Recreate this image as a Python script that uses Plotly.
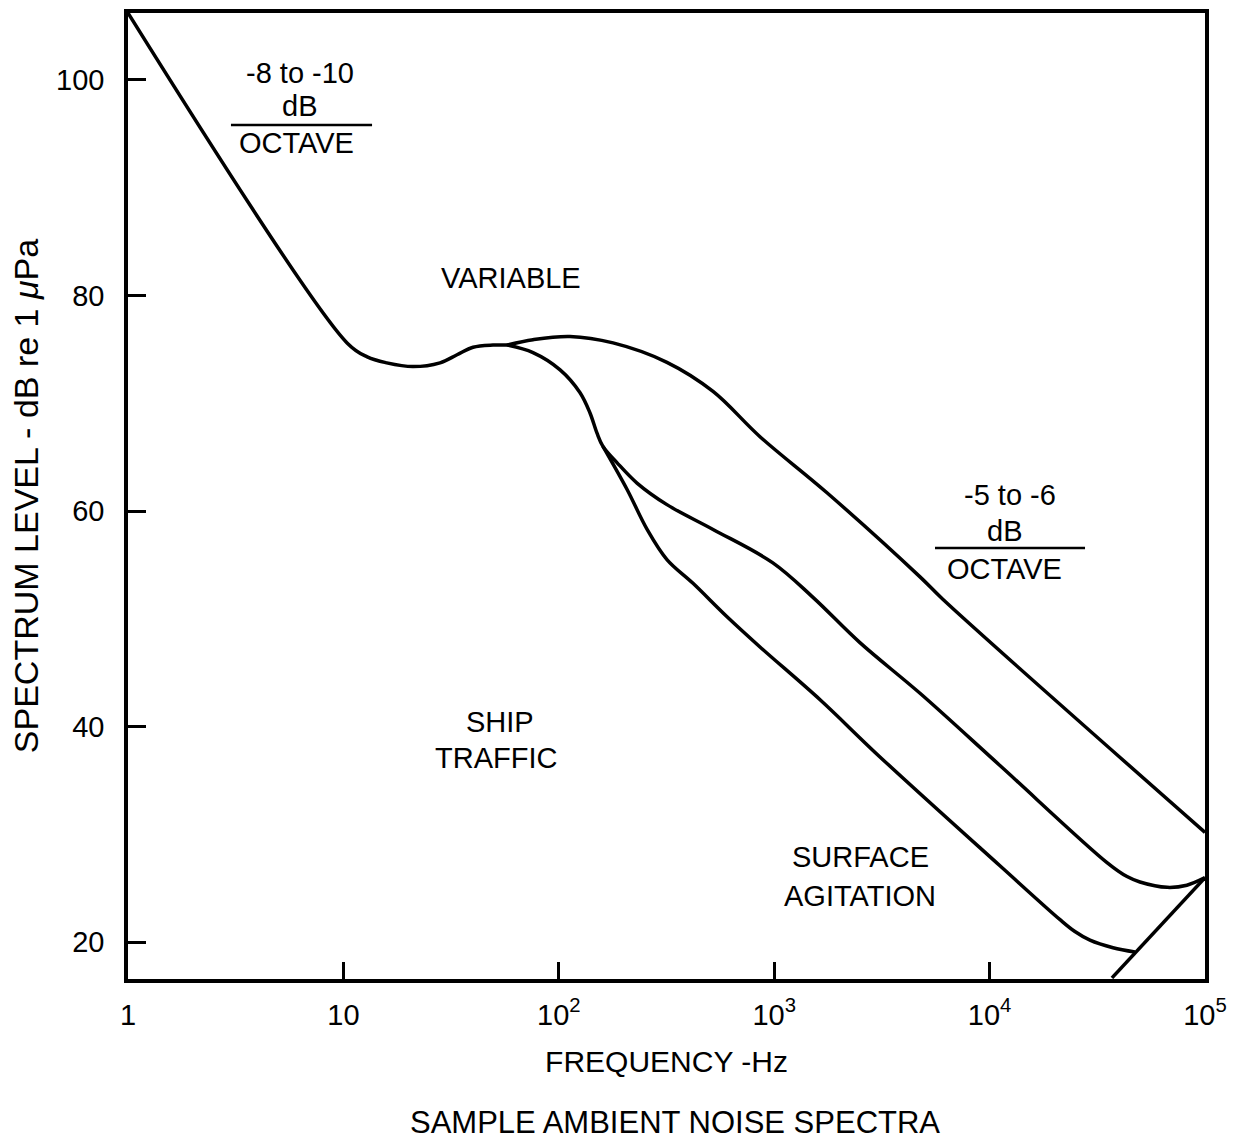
import plotly.graph_objects as go

# ---------------- data (frequency in Hz, level in dB re 1 uPa) ----------------
low_freq_hz = [1, 10.4, 12.9, 15.9, 21.0, 28.1, 33.7, 40.0, 49.5, 57.5]
low_level = [106.2, 75.6, 74.3, 73.75, 73.4, 73.75, 74.5, 75.2, 75.4, 75.4]

upper_freq_hz = [57.5, 75.9, 112.7, 178.6, 317.7, 520.0, 859.0, 1758,
                 4753, 6081, 100000]
upper_level = [75.4, 75.9, 76.2, 75.6, 73.8, 71.1, 66.9, 61.7,
               53.9, 51.8, 30.2]

middle_freq_hz = [57.5, 75.9, 101.4, 125.3, 139.6, 150.3, 160.3, 186.2, 230.7,
                  317.7, 520.0, 986, 1514, 2500, 4753, 11170, 35080, 43450,
                  49890, 66680, 82410, 100000]
middle_level = [75.4, 74.7, 73.1, 71.0, 69.1, 67.25, 66.0, 64.5, 62.6,
                60.6, 58.3, 55.2, 52.0, 47.8, 43.1, 36.4, 27.4, 26.1,
                25.6, 25.1, 25.3, 26.0]

lower_freq_hz = [160.3, 207.5, 257.0, 317.7, 419.8, 604.0, 859.0, 1633, 3097,
                 11170, 21230, 24890, 29240, 37410, 47320]
lower_level = [66.0, 62.0, 58.3, 55.5, 53.3, 50.2, 47.4, 42.5, 37.2,
               27.1, 22.1, 21.0, 20.2, 19.5, 19.1]

thermal_freq_hz = [36980, 100000]
thermal_level = [16.7, 26.0]

x_tick_vals = [1, 10, 100, 1000, 10000, 100000]
x_tick_text = ["1", "10", "10<sup>2</sup>", "10<sup>3</sup>", "10<sup>4</sup>", "10<sup>5</sup>"]
y_tick_vals = [20, 40, 60, 80, 100]

# ---------------- figure ----------------
FONT = "Liberation Sans, Arial, Helvetica, sans-serif"
line_style = dict(color="black", width=3.5, shape="spline", smoothing=1.0)

fig = go.Figure()
for fx, fy in [(low_freq_hz, low_level), (upper_freq_hz, upper_level),
               (middle_freq_hz, middle_level), (lower_freq_hz, lower_level),
               (thermal_freq_hz, thermal_level)]:
    fig.add_trace(go.Scatter(x=fx, y=fy, mode="lines", line=line_style,
                             showlegend=False, hoverinfo="skip"))

fig.update_xaxes(
    type="log", range=[0, 5],
    tickvals=x_tick_vals, ticktext=x_tick_text,
    ticks="inside", ticklen=17, tickwidth=3, tickcolor="black",
    showline=True, linecolor="black", linewidth=3.5, mirror=True,
    showgrid=False, zeroline=False, automargin=False,
    tickfont=dict(family=FONT, size=29, color="black"),
    ticklabelstandoff=7,
    title=dict(text="FREQUENCY -Hz", font=dict(family=FONT, size=30, color="black"),
               standoff=22),
)
fig.update_yaxes(
    range=[16.6, 106.2],
    tickvals=y_tick_vals,
    ticks="inside", ticklen=18, tickwidth=3, tickcolor="black",
    showline=True, linecolor="black", linewidth=3.5, mirror=True,
    showgrid=False, zeroline=False, automargin=False,
    tickfont=dict(family=FONT, size=29, color="black"),
    ticklabelstandoff=14,
    title=dict(text="SPECTRUM LEVEL - dB re 1 <i>μ</i>Pa",
               font=dict(family=FONT, size=34, color="black"), standoff=8),
)

label_font = dict(family=FONT, size=29, color="black")
labels = [
    ("-8 to -10", 0.1597, 0.9379),
    ("dB", 0.1597, 0.9037),
    ("OCTAVE", 0.1569, 0.8659),
    ("VARIABLE", 0.3556, 0.7257),
    ("-5 to -6", 0.8189, 0.5010),
    ("dB", 0.8134, 0.4638),
    ("OCTAVE", 0.8134, 0.4244),
    ("SHIP", 0.3454, 0.2660),
    ("TRAFFIC", 0.3417, 0.2288),
    ("SURFACE", 0.6797, 0.1263),
    ("AGITATION", 0.6797, 0.0859),
]
for txt, xp, yp in labels:
    fig.add_annotation(text=txt, x=xp, y=yp, xref="paper", yref="paper",
                       xanchor="center", yanchor="middle", showarrow=False,
                       font=label_font)

for x0, x1, yp in [(0.0956, 0.2266, 0.8841), (0.7493, 0.8886, 0.4462)]:
    fig.add_shape(type="line", xref="paper", yref="paper",
                  x0=x0, x1=x1, y0=yp, y1=yp, line=dict(color="black", width=2.5))

fig.update_layout(
    width=1242, height=1140,
    margin=dict(l=128, r=37, t=13, b=161),
    paper_bgcolor="white", plot_bgcolor="white",
    title=dict(text="SAMPLE AMBIENT NOISE SPECTRA", xref="container", yref="container",
               x=0.5435, y=0.0158, xanchor="center", yanchor="middle",
               font=dict(family=FONT, size=31, color="black")),
)

fig.write_html("out.html")
